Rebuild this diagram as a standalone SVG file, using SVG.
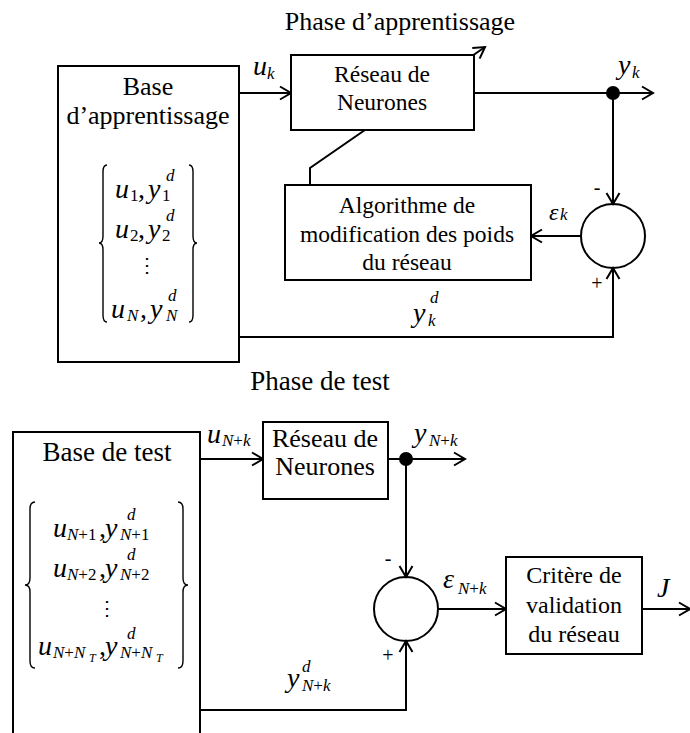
<svg xmlns="http://www.w3.org/2000/svg" width="690" height="733" viewBox="0 0 690 733">
<defs>
<marker id="arr" markerUnits="userSpaceOnUse" markerWidth="14" markerHeight="16" viewBox="0 0 14 16" refX="12" refY="8" orient="auto">
<path d="M1,1.5 L12,8 L1,14.5" fill="none" stroke="#000" stroke-width="2"/>
</marker>
</defs>
<style>
text{font-family:"Liberation Serif","Times New Roman",serif;fill:#000}
.t{font-size:26px;text-anchor:middle}
.t2{font-size:23.5px;text-anchor:middle}
.m{font-size:28px;font-style:italic}
.c{font-size:28px}
.s{font-size:17px}
.si{font-size:17px;font-style:italic}
.u{font-style:normal}
.box{fill:#fff;stroke:#000;stroke-width:2}
.ln{fill:none;stroke:#000;stroke-width:2}
.br{fill:none;stroke:#000;stroke-width:1.4}
</style>
<rect width="690" height="733" fill="#fff"/>
<text class="t" x="400" y="30">Phase d’apprentissage</text>
<text class="t" x="320" y="390" style="font-size:27px">Phase de test</text>

<g id="connectors">
<line class="ln" x1="239" y1="93" x2="291" y2="93" marker-end="url(#arr)"/>
<line class="ln" x1="474" y1="93" x2="653" y2="93" marker-end="url(#arr)"/>
<line class="ln" x1="613" y1="93" x2="613" y2="204" marker-end="url(#arr)"/>
<line class="ln" x1="581" y1="236" x2="531" y2="236" marker-end="url(#arr)"/>
<polyline class="ln" points="239,337 613,337 613,268" marker-end="url(#arr)"/>
<polyline class="ln" points="310,185 310,168 485,47" marker-end="url(#arr)"/>
<line class="ln" x1="200" y1="459" x2="263" y2="459" marker-end="url(#arr)"/>
<line class="ln" x1="388" y1="459" x2="465" y2="459" marker-end="url(#arr)"/>
<line class="ln" x1="406" y1="459" x2="406" y2="577" marker-end="url(#arr)"/>
<line class="ln" x1="438" y1="609" x2="506" y2="609" marker-end="url(#arr)"/>
<line class="ln" x1="642" y1="609" x2="690" y2="609" marker-end="url(#arr)"/>
<polyline class="ln" points="200,710 406,710 406,641" marker-end="url(#arr)"/>
<circle cx="613" cy="93" r="7" fill="#000"/>
<circle cx="406" cy="459" r="7" fill="#000"/>
</g>

<g id="base-apprentissage">
<rect class="box" x="58" y="66" width="181" height="296"/>
<text class="t" x="148" y="95">Base</text>
<text class="t" x="148" y="124">d’apprentissage</text>
<path class="br" d="M107,165 Q103,165 103,172 L103,236 Q103,243 99,243 Q103,243 103,250 L103,315 Q103,322 107,322"/>
<path class="br" d="M189,165 Q193,165 193,172 L193,236 Q193,243 197,243 Q193,243 193,250 L193,315 Q193,322 189,322"/>
<text class="m" x="115" y="198">u</text><text class="s" x="130" y="201">1</text><text class="c" x="138" y="198">,</text><text class="m" x="148" y="198">y</text><text class="s" x="162" y="201">1</text><text class="si" x="166" y="181">d</text>
<text class="m" x="115" y="238">u</text><text class="s" x="130" y="241">2</text><text class="c" x="138" y="238">,</text><text class="m" x="148" y="238">y</text><text class="s" x="162" y="241">2</text><text class="si" x="166" y="221">d</text>
<text x="147" y="272" style="font-family:'DejaVu Serif',serif;font-size:20px;text-anchor:middle">⋮</text>
<text class="m" x="111" y="318">u</text><text class="si" x="127" y="321">N</text><text class="c" x="140" y="318">,</text><text class="m" x="150" y="318">y</text><text class="si" x="166" y="321">N</text><text class="si" x="168" y="301">d</text>
</g>

<g id="reseau1">
<rect class="box" x="291" y="55" width="183" height="75"/>
<text class="t2" x="382" y="82">Réseau de</text>
<text class="t2" x="382" y="110">Neurones</text>
</g>

<g id="algorithme">
<rect class="box" x="285" y="185" width="246" height="95"/>
<text class="t2" x="407" y="213">Algorithme de</text>
<text class="t2" x="407" y="242">modification des poids</text>
<text class="t2" x="407" y="270">du réseau</text>
</g>

<g id="sum1">
<circle class="ln" cx="613" cy="236" r="32"/>
<text x="597" y="194" style="font-size:20px;text-anchor:middle">-</text>
<text x="597" y="290" style="font-size:20px;text-anchor:middle">+</text>
</g>

<g id="labels1">
<text class="m" x="253" y="75">u</text><text class="si" x="267" y="79">k</text>
<text class="m" x="618" y="74">y</text><text class="si" x="632" y="78">k</text>
<text class="m" x="549" y="220" style="font-size:24px">ε</text><text class="si" x="560" y="220">k</text>
<text class="m" x="413" y="322">y</text><text class="si" x="428" y="326">k</text><text class="si" x="430" y="303">d</text>
</g>

<g id="base-test">
<rect class="box" x="13" y="432" width="187" height="320"/>
<text class="t" x="107" y="461" style="font-size:27px">Base de test</text>
<path class="br" d="M35,502 Q30,502 30,509 L30,578 Q30,585 25,585 Q30,585 30,592 L30,661 Q30,668 35,668"/>
<path class="br" d="M178,502 Q183,502 183,509 L183,578 Q183,585 188,585 Q183,585 183,592 L183,661 Q183,668 178,668"/>
<text class="m" x="53" y="537">u</text><text class="si" x="67" y="540">N<tspan class="u">+1</tspan></text><text class="c" x="99" y="537">,</text><text class="m" x="105" y="537">y</text><text class="si" x="120" y="540">N<tspan class="u">+1</tspan></text><text class="si" x="127" y="520">d</text>
<text class="m" x="53" y="577">u</text><text class="si" x="67" y="580">N<tspan class="u">+2</tspan></text><text class="c" x="99" y="577">,</text><text class="m" x="105" y="577">y</text><text class="si" x="120" y="580">N<tspan class="u">+2</tspan></text><text class="si" x="127" y="560">d</text>
<text x="107" y="615" style="font-family:'DejaVu Serif',serif;font-size:20px;text-anchor:middle">⋮</text>
<text class="m" x="38" y="655">u</text><text class="si" x="53" y="658">N<tspan class="u">+</tspan>N</text><text class="si" x="89" y="662" style="font-size:12px">T</text><text class="c" x="99" y="655">,</text><text class="m" x="105" y="655">y</text><text class="si" x="120" y="658">N<tspan class="u">+</tspan>N</text><text class="si" x="156" y="662" style="font-size:12px">T</text><text class="si" x="127" y="639">d</text>
</g>

<g id="reseau2">
<rect class="box" x="263" y="422" width="125" height="77"/>
<text class="t" x="325" y="447">Réseau de</text>
<text class="t" x="325" y="475">Neurones</text>
</g>

<g id="sum2">
<circle class="ln" cx="406" cy="609" r="32"/>
<text x="388" y="565" style="font-size:20px;text-anchor:middle">-</text>
<text x="388" y="662" style="font-size:20px;text-anchor:middle">+</text>
</g>

<g id="critere">
<rect class="box" x="506" y="557" width="136" height="97"/>
<text class="t" x="574" y="583" style="font-size:24px">Critère de</text>
<text class="t" x="574" y="613" style="font-size:24px">validation</text>
<text class="t" x="574" y="642" style="font-size:24px">du réseau</text>
</g>

<g id="labels2">
<text class="m" x="207" y="443">u</text><text class="si" x="222" y="446">N<tspan class="u">+</tspan>k</text>
<text class="m" x="414" y="442">y</text><text class="si" x="429" y="446">N<tspan class="u">+</tspan>k</text>
<text class="m" x="443" y="588">ε</text><text class="si" x="458" y="594">N<tspan class="u">+</tspan>k</text>
<text class="m" x="657" y="597">J</text>
<text class="m" x="287" y="687">y</text><text class="si" x="302" y="691">N<tspan class="u">+</tspan>k</text><text class="si" x="302" y="672">d</text>
</g>
</svg>
